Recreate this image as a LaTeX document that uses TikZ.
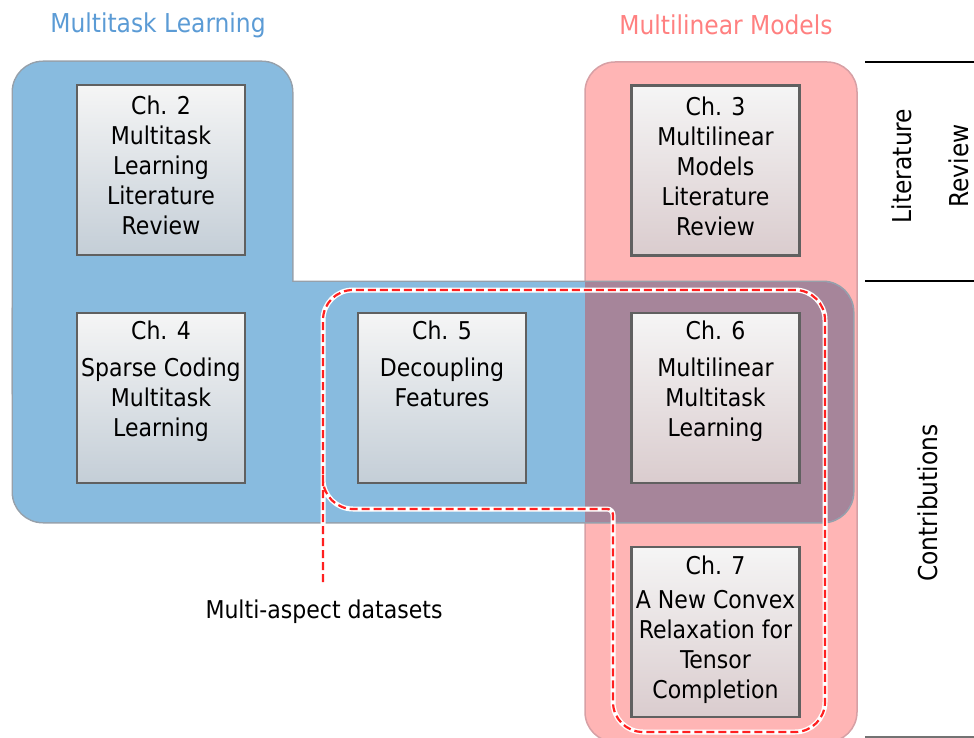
\documentclass[tikz,border=0pt]{standalone}
\usepackage{fontspec}
\setmainfont{DejaVu Sans Condensed}
\definecolor{mtblue}{RGB}{136,187,223}
\definecolor{mtbluetxt}{RGB}{91,155,213}
\definecolor{mlpink}{RGB}{255,181,181}
\definecolor{mlpinktxt}{RGB}{255,128,128}
\definecolor{overlap}{RGB}{166,133,154}
\definecolor{regionline}{RGB}{150,160,170}
\definecolor{pinkline}{RGB}{215,160,165}
\definecolor{boxline}{RGB}{96,96,96}
\definecolor{boxtop}{RGB}{245,245,245}
\definecolor{boxblue}{RGB}{196,206,215}
\definecolor{boxpink}{RGB}{218,204,206}
\definecolor{dashred}{RGB}{255,32,32}
\begin{document}
\begin{tikzpicture}[x=1pt,y=-1pt,
  chbox/.style={draw=boxline, line width=2.5pt, minimum width=168pt,
    minimum height=170pt, inner sep=0pt, top color=boxtop, bottom color=#1},
  chtext/.style={anchor=north, align=center, inner sep=0pt,
    font=\fontsize{24.5}{30}\selectfont},
  title/.style={font=\fontsize{26}{30}\selectfont, inner sep=0pt},
  side/.style={font=\fontsize{26}{30}\selectfont, inner sep=0pt, rotate=90},
  rule/.style={line width=2pt, black},
  outline/.style={rounded corners=30pt}]
\useasboundingbox (0,0) rectangle (974,738);

% group titles
\node[title, text=mtbluetxt] (tMT) at (158,25) {Multitask Learning};
\node[title, text=mlpinktxt] (tML) at (726,25) {Multilinear Models};

% pink column: multilinear models
\path[fill=mlpink, draw=pinkline, line width=1.5pt, rounded corners=30pt]
  (585,62) rectangle (857,742);

% blue L-shaped region: multitask learning (union of two rounded rectangles)
\path[draw=regionline, line width=3pt, rounded corners=30pt] (13,62) rectangle (292,420);
\path[draw=regionline, line width=3pt, rounded corners=30pt] (13,282) rectangle (853,522);
\path[fill=mtblue, rounded corners=30pt] (13,62) rectangle (292,420);
\path[fill=mtblue, rounded corners=30pt] (13,282) rectangle (853,522);

% intersection of both areas
\begin{scope}
  \clip[rounded corners=30pt] (585,62) rectangle (857,742);
  \path[fill=overlap, rounded corners=30pt] (13,282) rectangle (853,522);
\end{scope}

% chapter boxes
\node[chbox=boxblue] (c2) at (161,170) {};
\node[chbox=boxpink] (c3) at (715.5,170.5) {};
\node[chbox=boxblue] (c4) at (161,398) {};
\node[chbox=boxblue] (c5) at (442,398) {};
\node[chbox=boxpink] (c6) at (715.5,398) {};
\node[chbox=boxpink] (c7) at (715.5,632) {};

\node[chtext] (c2t) at ([yshift=-12pt]c2.north) {Ch. 2\\Multitask\\Learning\\Literature\\Review};
\node[chtext] (c3t) at ([yshift=-12pt]c3.north) {Ch. 3\\Multilinear\\Models\\Literature\\Review};
\node[chtext] (c4t) at ([yshift=-9pt]c4.north) {Ch. 4\\[7pt]Sparse Coding\\Multitask\\Learning};
\node[chtext] (c5t) at ([yshift=-9pt]c5.north) {Ch. 5\\[7pt]Decoupling\\Features};
\node[chtext] (c6t) at ([yshift=-9pt]c6.north) {Ch. 6\\[7pt]Multilinear\\Multitask\\Learning};
\node[chtext] (c7t) at ([yshift=-10pt]c7.north) {Ch. 7\\[4pt]A New Convex\\Relaxation for\\Tensor\\Completion};

% multi-aspect datasets outline: white casing under a red dashed line
\coordinate (tail) at (323,582);
\def\datasetpath{(tail) -- (323,290) -- (825,290) -- (825,732) -- (613,732)
  [rounded corners=6pt] -- (613,509) [rounded corners=30pt] -- (323,509) -- (323,470)}
\draw[white, line width=5pt, outline] \datasetpath;
\draw[dashred, line width=2.2pt, dash pattern=on 8pt off 4pt, outline] \datasetpath;
\node[font=\fontsize{24.5}{30}\selectfont, inner sep=0pt] (msd) at (324,612) {Multi-aspect datasets};

% row labels on the right
\draw[rule] (865,62) coordinate (r1a) -- (974,62) coordinate (r1b);
\draw[rule] (865,281) coordinate (r2a) -- (974,281) coordinate (r2b);
\draw[line width=1.5pt, black!55] (865,737) coordinate (r3a) -- (974,737) coordinate (r3b);
\node[side] (litA) at (902,166) {Literature};
\node[side] (litB) at (959,166) {Review};
\node[side] (contr) at (928,503) {Contributions};
\end{tikzpicture}
\end{document}
